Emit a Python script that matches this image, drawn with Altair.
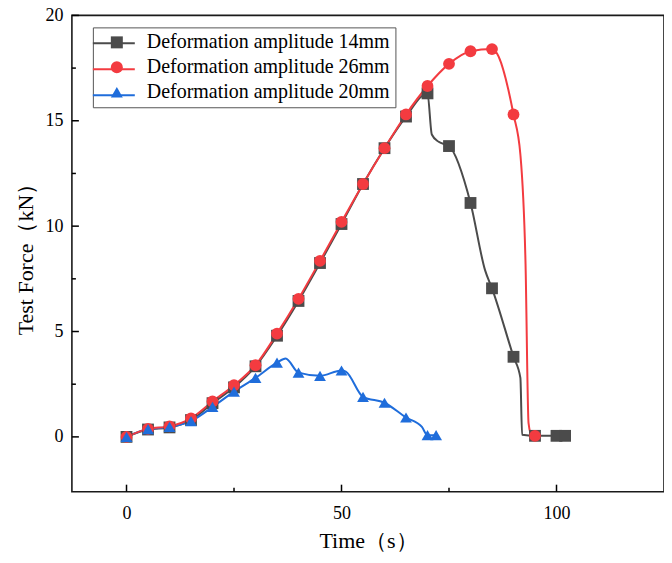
import altair as alt
import pandas as pd

SERIES = ["Deformation amplitude 14mm", "Deformation amplitude 26mm", "Deformation amplitude 20mm"]
COLORS = ["#4b4b4b", "#f33b40", "#1f6ddb"]
SHAPES = ["square", "circle", "triangle-up"]

# marker points (s, kN)
t_14 = [0, 5, 10, 15, 20, 25, 30, 35, 40, 45, 50, 55, 60, 65, 70, 75, 80, 85, 90, 95, 100, 102]
f_14 = [0, 0.35, 0.45, 0.8, 1.6, 2.35, 3.35, 4.8, 6.45, 8.25, 10.1, 12.0, 13.7, 15.2, 16.3,
        13.8, 11.1, 7.05, 3.8, 0.05, 0.05, 0.05]
t_26 = [0, 5, 10, 15, 20, 25, 30, 35, 40, 45, 50, 55, 60, 65, 70, 75, 80, 85, 90, 95]
f_26 = [0, 0.38, 0.5, 0.88, 1.68, 2.45, 3.4, 4.9, 6.55, 8.35, 10.2, 12.0, 13.7, 15.3, 16.65,
        17.7, 18.3, 18.4, 15.3, 0.05]
t_20 = [0, 5, 10, 15, 20, 25, 30, 35, 40, 45, 50, 55, 60, 65, 70, 72]
f_20 = [0, 0.37, 0.47, 0.75, 1.42, 2.15, 2.8, 3.52, 3.05, 2.9, 3.15, 1.9, 1.62, 0.92, 0.08, 0.08]

# extra points
t_14_line = [71.0, 72.6, 83.4, 91.6, 92.0]
f_14_line = [14.35, 14.0, 7.9, 2.8, 0.1]
t_26_line = [91.6, 92.8, 93.5, 94.2]
f_26_line = [13.4, 8.2, 0.65, 0.08]
t_20_line = [37.0, 51.0, 68.7]
f_20_line = [3.72, 3.1, 0.47]

X_DOMAIN = [-12.7, 125]
Y_DOMAIN = [-2.6, 20]
X_MAJOR = [0, 50, 100]
X_MINOR = [25, 75]
Y_MAJOR = [0, 5, 10, 15, 20]
Y_MINOR = [2.5, 7.5, 12.5, 17.5]

X_TITLE = "Time（s）"
Y_TITLE = "Test Force（kN）"
FONT = "Liberation Serif"
W, H = 593, 477
MAJOR, MINOR = 7, 4


def frame(ts, fs, name):
    return pd.DataFrame({"t": ts, "f": fs, "series": name})


markers = pd.concat([
    frame(t_14, f_14, SERIES[0]),
    frame(t_26, f_26, SERIES[1]),
    frame(t_20, f_20, SERIES[2]),
], ignore_index=True)

lines = pd.concat([
    frame(t_14 + t_14_line, f_14 + f_14_line, SERIES[0]),
    frame(t_26 + t_26_line, f_26 + f_26_line, SERIES[1]),
    frame(t_20 + t_20_line, f_20 + f_20_line, SERIES[2]),
], ignore_index=True).sort_values(["series", "t"])

xs = alt.Scale(domain=X_DOMAIN, nice=False, zero=False)
ys = alt.Scale(domain=Y_DOMAIN, nice=False, zero=False)

x_label_axis = alt.Axis(orient="bottom", values=X_MAJOR, ticks=False, tickSize=0, domain=False,
                        grid=False, labelFont=FONT, labelFontSize=18, labelColor="black",
                        labelPadding=13, title=X_TITLE, titleFont=FONT, titleFontSize=22,
                        titleFontWeight="normal", titleColor="black", titlePadding=8)
y_label_axis = alt.Axis(orient="left", values=Y_MAJOR, ticks=False, tickSize=0, domain=False,
                        grid=False, labelFont=FONT, labelFontSize=18, labelColor="black",
                        labelPadding=9, title=Y_TITLE, titleFont=FONT, titleFontSize=22,
                        titleFontWeight="normal", titleColor="black", titlePadding=7)

color_scale = alt.Scale(domain=SERIES, range=COLORS)
shape_scale = alt.Scale(domain=SERIES, range=SHAPES)
stroke_scale = alt.Scale(domain=SERIES, range=COLORS)

legend_markers = alt.Legend(orient="none", legendX=21, legendY=12, title=None,
                            strokeColor="#555555", padding=5, symbolOffset=9, symbolSize=144,
                            symbolStrokeWidth=0, labelOffset=20, labelFont=FONT,
                            labelFontSize=20, labelColor="black", labelLimit=400, rowPadding=5)
legend_lines = alt.Legend(orient="top-left", offset=12, title=None,
                          symbolType="M-2.1,0L2.1,0", symbolSize=400, symbolStrokeWidth=2,
                          padding=5, symbolOffset=14, labelFont=FONT, labelFontSize=20,
                          labelOpacity=0, labelLimit=400, rowPadding=5)

# legend carrier (draws no rows)
legend_layer = alt.Chart(markers).transform_filter("false").mark_point(
    filled=True, opacity=1
).encode(
    x=alt.X("t:Q", scale=xs, axis=None),
    y=alt.Y("f:Q", scale=ys, axis=None),
    color=alt.Color("series:N", scale=color_scale, legend=legend_markers),
    shape=alt.Shape("series:N", scale=shape_scale, legend=legend_markers),
)


# inward axis ticks, placed along the axes by the shared scales
def x_ticks(values, length):
    return alt.Chart(pd.DataFrame({"v": values})).mark_rule(color="black", strokeWidth=1.5).encode(
        x=alt.X("v:Q", scale=xs, axis=None),
        y=alt.value(H), y2=alt.value(H - length),
    )


def y_ticks(values, length):
    return alt.Chart(pd.DataFrame({"v": values})).mark_rule(color="black", strokeWidth=1.5).encode(
        y=alt.Y("v:Q", scale=ys, axis=None),
        x=alt.value(0), x2=alt.value(length),
    )


line_layer = alt.Chart(lines).mark_line(interpolate="monotone", strokeWidth=2).encode(
    x=alt.X("t:Q", scale=xs, axis=x_label_axis),
    y=alt.Y("f:Q", scale=ys, axis=y_label_axis),
    stroke=alt.Stroke("series:N", scale=stroke_scale, legend=legend_lines),
)

point_layer = alt.Chart(markers).mark_point(filled=True, opacity=1, size=140).encode(
    x=alt.X("t:Q", scale=xs, axis=None),
    y=alt.Y("f:Q", scale=ys, axis=None),
    color=alt.Color("series:N", scale=color_scale, legend=None),
    shape=alt.Shape("series:N", scale=shape_scale, legend=None),
)

chart = alt.layer(
    legend_layer,
    x_ticks(X_MAJOR, MAJOR), x_ticks(X_MINOR, MINOR),
    y_ticks(Y_MAJOR, MAJOR), y_ticks(Y_MINOR, MINOR),
    line_layer, point_layer,
).resolve_axis(
    x="independent", y="independent"
).properties(
    width=W, height=H,
    autosize=alt.AutoSizeParams(type="none"),
    padding={"left": 64, "top": 7, "right": 0, "bottom": 60},
).configure_view(stroke="#1a1a1a", strokeWidth=1.6)

chart.save("out.html", embed_options={"renderer": "svg", "actions": False})
